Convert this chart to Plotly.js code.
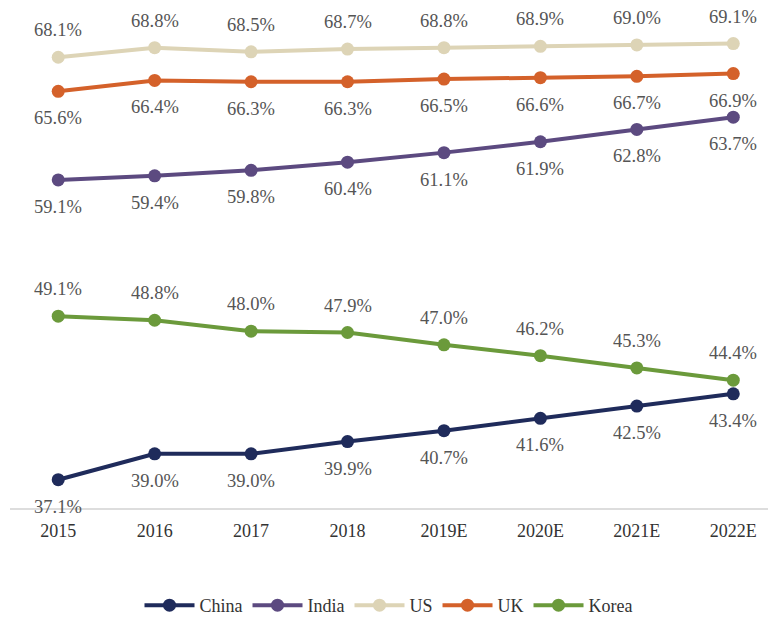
<!DOCTYPE html>
<html><head><meta charset="utf-8">
<script src="https://cdn.plot.ly/plotly-3.0.1.min.js"></script>
<style>html,body{margin:0;padding:0;background:#fff}#chart{width:768px;height:624px}</style>
</head><body><div id="chart"></div>
<script>
const years = ["2015","2016","2017","2018","2019E","2020E","2021E","2022E"];
const china = [37.1,39.0,39.0,39.9,40.7,41.6,42.5,43.4];
const india = [59.1,59.4,59.8,60.4,61.1,61.9,62.8,63.7];
const us    = [68.1,68.8,68.5,68.7,68.8,68.9,69.0,69.1];
const uk    = [65.6,66.4,66.3,66.3,66.5,66.6,66.7,66.9];
const korea = [49.1,48.8,48.0,47.9,47.0,46.2,45.3,44.4];

const seriesDefs = [
  {name:"China", y:china, color:"#1f2b5b", above:false},
  {name:"India", y:india, color:"#5c4a80", above:false},
  {name:"US",    y:us,    color:"#ddd4b6", above:true},
  {name:"UK",    y:uk,    color:"#d4612a", above:false},
  {name:"Korea", y:korea, color:"#6b9a3b", above:true}
];
const serif = "Liberation Serif, Times New Roman, serif";
const traces = seriesDefs.map(s => ({
  type:"scatter", mode:"lines+markers", name:s.name, x:years, y:s.y,
  line:{color:s.color, width:4}, marker:{color:s.color, size:13},
  cliponaxis:false
}));
const annotations = [];
seriesDefs.forEach(s => {
  s.y.forEach((v,i) => {
    annotations.push({x:i, y:v, xref:"x", yref:"y", text:v.toFixed(1)+"%",
      showarrow:false, yshift: s.above ? 27 : -27,
      font:{family:serif, size:18.5, color:"#555"}});
  });
});
const layout = {
  width:768, height:624,
  margin:{l:10, r:0, t:0, b:112},
  paper_bgcolor:"#fff", plot_bgcolor:"#fff",
  showlegend:true,
  legend:{orientation:"h", x:0.5, xanchor:"center", y:-0.19, yanchor:"middle",
    font:{family:serif, size:18, color:"#333"}, itemwidth:50, traceorder:"normal"},
  xaxis:{type:"category", range:[-0.5,7.36], showgrid:false, zeroline:false,
    showline:false, ticks:"", ticklabelstandoff:9, tickfont:{family:serif, size:18, color:"#333"}},
  yaxis:{range:[34.95,72.3], visible:false, showgrid:false, zeroline:false},
  shapes:[{type:"line", xref:"paper", yref:"paper", x0:0, x1:1, y0:0, y1:0,
    line:{color:"#dddddd", width:2}}],
  annotations:annotations
};
Plotly.newPlot("chart", traces, layout, {displayModeBar:false, staticPlot:true});
</script></body></html>
